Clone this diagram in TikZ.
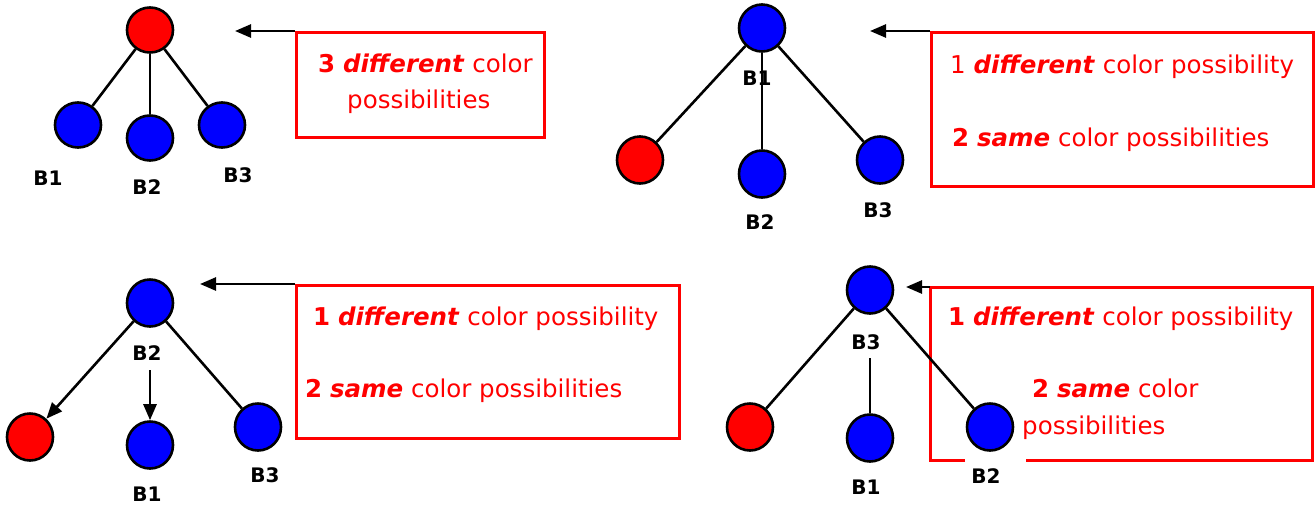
\documentclass[tikz,border=0pt]{standalone}
\usepackage{fontspec}
\setmainfont{DejaVu Sans}
\usetikzlibrary{shapes.geometric,arrows.meta}
\tikzset{
  ball/.style={ellipse, draw=black, line width=2.6pt, minimum width=46pt, minimum height=47pt, inner sep=0pt},
  blueball/.style={ball, fill=blue},
  redball/.style={ball, fill=red},
  lab/.style={font=\fontsize{20}{20}\selectfont\bfseries, inner sep=1pt},
  edge/.style={line width=2.6pt},
  arr/.style={edge, -{Triangle[length=16pt,width=13pt]}},
  box/.style={draw=red, line width=3pt},
  txt/.style={text=red, font=\fontsize{24.5}{24.5}\selectfont, anchor=base west, inner sep=0pt},
}
\newcommand{\emp}[1]{\textbf{\textit{#1}}}
\begin{document}
\begin{tikzpicture}[x=1pt,y=-1pt]
\useasboundingbox (0,0) rectangle (1315,504);
% ---------- panel 1 ----------
\node[redball, minimum height=45pt] (p1t) at (150,30) {};
\node[blueball, minimum height=45pt] (p1a) at (78,125) {};
\node[blueball, minimum height=45pt] (p1b) at (150,138) {};
\node[blueball, minimum height=45pt] (p1c) at (222,125) {};
\node[lab] (p1la) at (48,178) {B1};
\node[lab] (p1lb) at (147,187) {B2};
\node[lab] (p1lc) at (238,175) {B3};
\draw[edge] (p1t) -- (p1a);
\draw[edge] (p1t) -- (p1b);
\draw[edge] (p1t) -- (p1c);
\node[box, minimum width=248pt, minimum height=105pt, anchor=north west] (p1box) at (295,31) {};
\coordinate (p1tip) at (235,31);
\draw[arr] (p1box.north west) -- (p1tip);
\node[txt] (p1t1) at (318,72) {\textbf{3} \emp{different} color};
\node[txt] (p1t2) at (347,108) {possibilities};
% ---------- panel 2 ----------
\node[blueball] (p2t) at (762,28) {};
\node[redball] (p2a) at (640,160) {};
\node[blueball] (p2b) at (762,174) {};
\node[blueball] (p2c) at (880,160) {};
\node[lab] (p2lt) at (757,78) {B1};
\node[lab] (p2lb) at (760,222) {B2};
\node[lab] (p2lc) at (878,210) {B3};
\draw[edge] (p2t) -- (p2a);
\draw[edge] (p2t) -- (p2b);
\draw[edge] (p2t) -- (p2c);
\node[box, minimum width=382pt, minimum height=154pt, anchor=north west] (p2box) at (930,31) {};
\coordinate (p2tip) at (870,31);
\draw[arr] (p2box.north west) -- (p2tip);
\node[txt] (p2t1) at (950,73) {1 \emp{different} color possibility};
\node[txt] (p2t2) at (952,146) {\textbf{2} \emp{same} color possibilities};
% ---------- panel 3 ----------
\node[blueball] (p3t) at (150,303) {};
\node[redball] (p3a) at (30,437) {};
\node[blueball] (p3b) at (150,445) {};
\node[blueball] (p3c) at (258,427) {};
\node[lab] (p3lt) at (147,353) {B2};
\node[lab] (p3lb) at (147,494) {B1};
\node[lab] (p3lc) at (265,475) {B3};
\coordinate (p3s) at (150,370);
\draw[arr] (p3t) -- (p3a);
\draw[arr] (p3s) -- (p3b);
\draw[edge] (p3t) -- (p3c);
\node[box, minimum width=383pt, minimum height=153pt, anchor=north west] (p3box) at (295,284) {};
\coordinate (p3tip) at (200,284);
\draw[arr] (p3box.north west) -- (p3tip);
\node[txt] (p3t1) at (313,325) {\textbf{1} \emp{different} color possibility};
\node[txt] (p3t2) at (305,397) {\textbf{2} \emp{same} color possibilities};
% ---------- panel 4 ----------
\node[blueball] (p4t) at (870,290) {};
\node[redball] (p4a) at (750,427) {};
\node[blueball] (p4b) at (870,438) {};
\node[blueball] (p4c) at (990,427) {};
\node[lab] (p4lt) at (866,342) {B3};
\node[lab] (p4lb) at (866,487) {B1};
\node[lab] (p4lc) at (986,476) {B2};
\coordinate (p4g1) at (965,460);
\coordinate (p4g2) at (1026,460);
\draw[box] (p4g1) -- (930,460) -- (930,287) -- (1312,287) -- (1312,460) -- (p4g2);
\coordinate (p4corner) at (930,287);
\coordinate (p4tip) at (906,287);
\draw[arr] (p4corner) -- (p4tip);
\coordinate (p4s) at (870,358);
\draw[edge] (p4t) -- (p4a);
\draw[edge] (p4s) -- (p4b);
\draw[edge] (p4t) -- (p4c);
\node[txt] (p4t1) at (948,325) {\textbf{1} \emp{different} color possibility};
\node[txt] (p4t2) at (1032,397) {\textbf{2} \emp{same} color};
\node[txt] (p4t3) at (1022,434) {possibilities};
\end{tikzpicture}
\end{document}
